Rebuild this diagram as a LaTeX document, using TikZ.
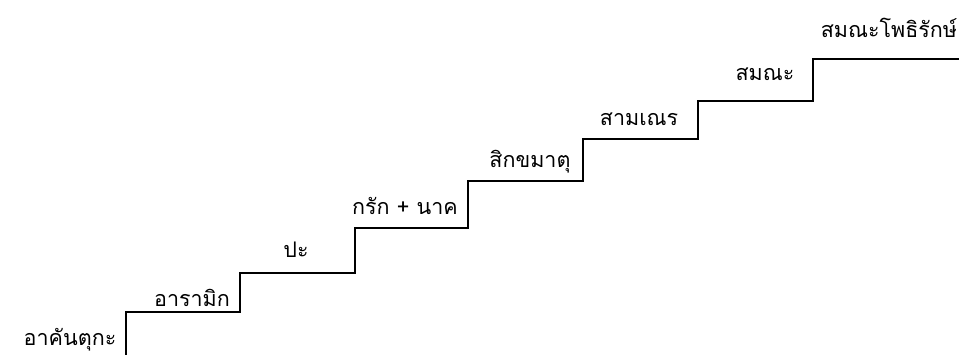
\documentclass[tikz,border=0pt]{standalone}
\usepackage{fontspec}
\newfontfamily\thaifont[Script=Thai]{Loma}
\tikzset{
	rank/.style={font=\thaifont\fontsize{21.5}{26}\selectfont, inner sep=0pt},
	stair/.style={line width=1.8pt, line join=miter}
}
\begin{document}
\begin{tikzpicture}[x=1pt, y=-1pt]
			\useasboundingbox (0,0) rectangle (959,355);
			% the steps
			\draw [stair] (126,355) -- (126,312) -- (240,312) -- (240,273)
				-- (355,273) -- (355,228) -- (468,228) -- (468,181)
				-- (583,181) -- (583,139) -- (698,139) -- (698,101)
				-- (813,101) -- (813,59) -- (959,59);
			% names on the steps
			\node [rank] (guest) at (70,340) {อาคันตุกะ};
			\node [rank] (aramik) at (192,298) {อารามิก};
			\node [rank] (pa) at (296,250) {ปะ};
			\node [rank] (krak) at (405,206) {กรัก + นาค};
			\node [rank] (sikkha) at (530,162) {สิกขมาตุ};
			\node [rank] (samanen) at (639,119) {สามเณร};
			\node [rank] (samana) at (765,74) {สมณะ};
			\node [rank] (bodhi) at (889,28) {สมณะโพธิรักษ์};
\end{tikzpicture}
\end{document}
